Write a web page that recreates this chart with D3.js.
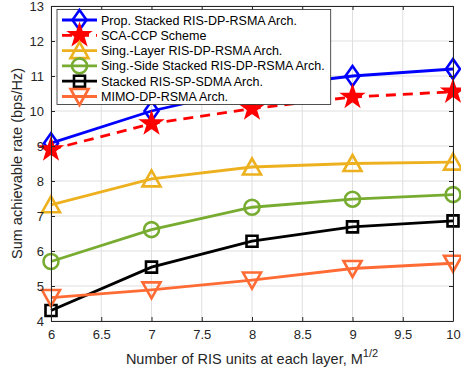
<!DOCTYPE html>
<html>
<head>
<meta charset="utf-8">
<script src="https://cdn.jsdelivr.net/npm/d3@7"></script>
<style>
  body { margin: 0; background: #fff; }
  svg { font-family: 'Liberation Sans', Arial, sans-serif; }
</style>
</head>
<body>
<div id="chart"></div>
<script>
const xValues = [6, 7, 8, 9, 10]
const propStacked = [9.08, 10.0, 10.65, 11.0, 11.2]
const scaCcp = [8.9, 9.64, 10.07, 10.4, 10.55]
const singLayer = [7.32, 8.06, 8.4, 8.5, 8.54]
const singSide = [5.7, 6.61, 7.25, 7.48, 7.61]
const stackedSdma = [4.3, 5.54, 6.28, 6.69, 6.86]
const mimoRsma = [4.67, 4.89, 5.17, 5.5, 5.65]

const seriesNames = [
  'Prop. Stacked RIS-DP-RSMA Arch.',
  'SCA-CCP Scheme',
  'Sing.-Layer RIS-DP-RSMA Arch.',
  'Sing.-Side Stacked RIS-DP-RSMA Arch.',
  'Stacked RIS-SP-SDMA Arch.',
  'MIMO-DP-RSMA Arch.'
]
const xTicks = [6, 6.5, 7, 7.5, 8, 8.5, 9, 9.5, 10]
const yTicks = [4, 5, 6, 7, 8, 9, 10, 11, 12, 13]

const series = [
  { name: seriesNames[0], values: propStacked, color: '#0000ff', marker: 'diamond', dash: null },
  { name: seriesNames[1], values: scaCcp, color: '#ff0000', marker: 'star', dash: '10,7' },
  { name: seriesNames[2], values: singLayer, color: '#edb120', marker: 'up', dash: null },
  { name: seriesNames[3], values: singSide, color: '#77ac30', marker: 'circle', dash: null },
  { name: seriesNames[4], values: stackedSdma, color: '#000000', marker: 'square', dash: null },
  { name: seriesNames[5], values: mimoRsma, color: '#ff6b35', marker: 'down', dash: null }
]

const width = 461
const height = 373
const margin = { top: 6, right: 8, bottom: 52, left: 51 }

const svg = d3.select('#chart')
  .append('svg')
  .attr('width', width)
  .attr('height', height)

const x = d3.scaleLinear().domain([6, 10]).range([margin.left, width - margin.right])
const y = d3.scaleLinear().domain([4, 13]).range([height - margin.bottom, margin.top])

// grid
svg.append('g')
  .selectAll('line')
  .data(xTicks)
  .enter()
  .append('line')
  .attr('x1', d => x(d)).attr('x2', d => x(d))
  .attr('y1', y(4)).attr('y2', y(13))
  .attr('stroke', '#dfdfdf')
svg.append('g')
  .selectAll('line')
  .data(yTicks)
  .enter()
  .append('line')
  .attr('x1', x(6)).attr('x2', x(10))
  .attr('y1', d => y(d)).attr('y2', d => y(d))
  .attr('stroke', '#dfdfdf')

// markers
function markerPath (type) {
  switch (type) {
    case 'diamond': return 'M0,-10L7,0L0,10L-7,0Z'
    case 'square': return 'M-5.5,-5.5H5.5V5.5H-5.5Z'
    case 'up': return 'M0,-8.5L9,7.5L-9,7.5Z'
    case 'down': return 'M0,8.5L9,-7.5L-9,-7.5Z'
    case 'star': {
      let p = ''
      for (let i = 0; i < 10; i++) {
        const r = i % 2 === 0 ? 11.5 : 4.5
        const a = -Math.PI / 2 + i * Math.PI / 5
        p += (i === 0 ? 'M' : 'L') + (r * Math.cos(a)).toFixed(2) + ',' + (r * Math.sin(a)).toFixed(2)
      }
      return p + 'Z'
    }
  }
  return null
}

function drawMarker (g, s, cx, cy) {
  if (s.marker === 'circle') {
    g.append('circle')
      .attr('cx', cx).attr('cy', cy).attr('r', 7.5)
      .attr('fill', 'none').attr('stroke', s.color).attr('stroke-width', 2.6)
  } else if (s.marker === 'star') {
    g.append('path')
      .attr('d', markerPath('star'))
      .attr('transform', `translate(${cx},${cy})`)
      .attr('fill', s.color).attr('stroke', s.color).attr('stroke-width', 1.5)
  } else {
    g.append('path')
      .attr('d', markerPath(s.marker))
      .attr('transform', `translate(${cx},${cy})`)
      .attr('fill', 'none').attr('stroke', s.color).attr('stroke-width', 2.6)
  }
}

const line = d3.line()
  .x((d, i) => x(xValues[i]))
  .y(d => y(d))

const plot = svg.append('g')
series.forEach(s => {
  const g = plot.append('g')
  g.append('path')
    .attr('d', line(s.values))
    .attr('fill', 'none')
    .attr('stroke', s.color)
    .attr('stroke-width', 2.8)
    .attr('stroke-dasharray', s.dash)
  s.values.forEach((v, i) => drawMarker(g, s, x(xValues[i]), y(v)))
})

// axes box with inward ticks
const axisColor = '#262626'
const xAxisB = d3.axisBottom(x).tickValues(xTicks).tickSizeInner(-4).tickSizeOuter(0).tickPadding(9)
  .tickFormat(d3.format('~g'))
const xAxisT = d3.axisTop(x).tickValues(xTicks).tickSizeInner(-4).tickSizeOuter(0).tickFormat('')
const yAxisL = d3.axisLeft(y).tickValues(yTicks).tickSizeInner(-4).tickSizeOuter(0).tickPadding(7)
const yAxisR = d3.axisRight(y).tickValues(yTicks).tickSizeInner(-4).tickSizeOuter(0).tickFormat('')

const styleAxis = g => {
  g.selectAll('path').attr('stroke', axisColor).attr('stroke-width', 1)
  g.selectAll('line').attr('stroke', axisColor)
  g.selectAll('text').attr('fill', axisColor).style('font-size', '13px')
}

svg.append('g').attr('transform', `translate(0,${y(4)})`).call(xAxisB).call(styleAxis)
svg.append('g').attr('transform', `translate(0,${y(13)})`).call(xAxisT).call(styleAxis)
svg.append('g').attr('transform', `translate(${x(6)},0)`).call(yAxisL).call(styleAxis)
svg.append('g').attr('transform', `translate(${x(10)},0)`).call(yAxisR).call(styleAxis)

// axis labels
const xLabel = svg.append('text')
  .attr('x', (x(6) + x(10)) / 2)
  .attr('y', 364)
  .attr('text-anchor', 'middle')
  .attr('fill', axisColor)
  .style('font-size', '14.5px')
xLabel.append('tspan').text('Number of RIS units at each layer, M')
xLabel.append('tspan').attr('dy', -7).style('font-size', '11px').text('1/2')

svg.append('text')
  .attr('transform', `translate(22,${(y(4) + y(13)) / 2}) rotate(-90)`)
  .attr('text-anchor', 'middle')
  .attr('fill', axisColor)
  .style('font-size', '14.5px')
  .text('Sum achievable rate (bps/Hz)')

// legend
const legend = svg.append('g')
const legendBox = legend.append('rect')
  .attr('x', 57).attr('y', 9.5)
  .attr('height', 95)
  .attr('fill', '#fff')
  .attr('stroke', axisColor)
  .attr('stroke-width', 0.8)

let maxRight = 0
series.forEach((s, i) => {
  const ly = 20 + i * 15.3
  const g = legend.append('g')
  g.append('line')
    .attr('x1', 62).attr('x2', 97)
    .attr('y1', ly).attr('y2', ly)
    .attr('stroke', s.color).attr('stroke-width', 2.8)
    .attr('stroke-dasharray', s.dash)
  drawMarker(g, s, 79.5, ly)
  const t = g.append('text')
    .attr('x', 101).attr('y', ly + 4.5)
    .attr('fill', '#000')
    .style('font-size', '12.5px')
    .text(s.name)
  const b = t.node().getBBox()
  maxRight = Math.max(maxRight, b.x + b.width)
})
legendBox.attr('width', maxRight + 6 - 57)
</script>
</body>
</html>
